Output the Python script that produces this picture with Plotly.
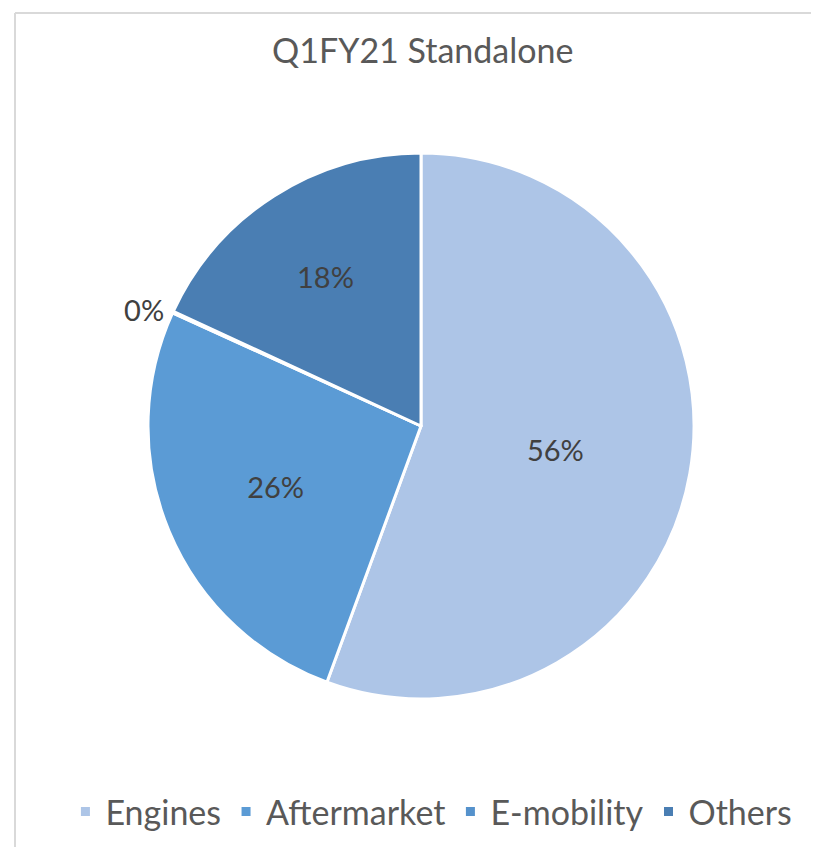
import plotly.graph_objects as go

categories = ["Engines", "Aftermarket", "E-mobility", "Others"]
values = [55.6, 26.2, 0.1, 18.1]
colors = ["#adc5e7", "#5b9bd5", "#5592cc", "#4a7eb3"]
title_text = "Q1FY21 Standalone"

W, H = 819, 847
cx, cy, r = 413, 418, 273

fig = go.Figure(go.Pie(
    labels=categories,
    values=values,
    sort=False,
    direction="clockwise",
    rotation=0,
    marker=dict(colors=colors, line=dict(color="white", width=3)),
    texttemplate="%{percent:.0%}",
    textposition=["inside", "inside", "outside", "inside"],
    insidetextorientation="horizontal",
    textfont=dict(family="Lato, Open Sans, sans-serif", size=29, color="#404040"),
    insidetextfont=dict(family="Lato, Open Sans, sans-serif", size=29, color="#404040"),
    outsidetextfont=dict(family="Lato, Open Sans, sans-serif", size=29, color="#404040"),
    hoverinfo="label+percent",
    automargin=False,
    domain=dict(x=[(cx - r) / W, (cx + r) / W], y=[(H - cy - r) / H, (H - cy + r) / H]),
))

fig.update_layout(
    width=W, height=H,
    margin=dict(l=0, r=0, t=0, b=0),
    paper_bgcolor="white",
    showlegend=True,
    legend=dict(
        orientation="h", x=0.517, xanchor="center", y=(H - 804) / H, yanchor="middle",
        font=dict(family="Lato, Open Sans, sans-serif", size=34, color="#595959"),
        itemwidth=30, traceorder="normal",
    ),
    annotations=[dict(
        text=title_text, x=414 / W, y=(H - 42) / H, xref="paper", yref="paper",
        xanchor="center", yanchor="middle", showarrow=False,
        font=dict(family="Lato, Open Sans, sans-serif", size=34, color="#595959"),
    )],
    shapes=[
        dict(type="line", xref="paper", yref="paper",
             x0=7 / W, x1=1.0, y0=(H - 5) / H, y1=(H - 5) / H,
             line=dict(color="#d9d9d9", width=2), layer="below"),
        dict(type="line", xref="paper", yref="paper",
             x0=7 / W, x1=7 / W, y0=0, y1=(H - 5) / H,
             line=dict(color="#d9d9d9", width=2), layer="below"),
    ],
)

fig.write_html("out.html")
